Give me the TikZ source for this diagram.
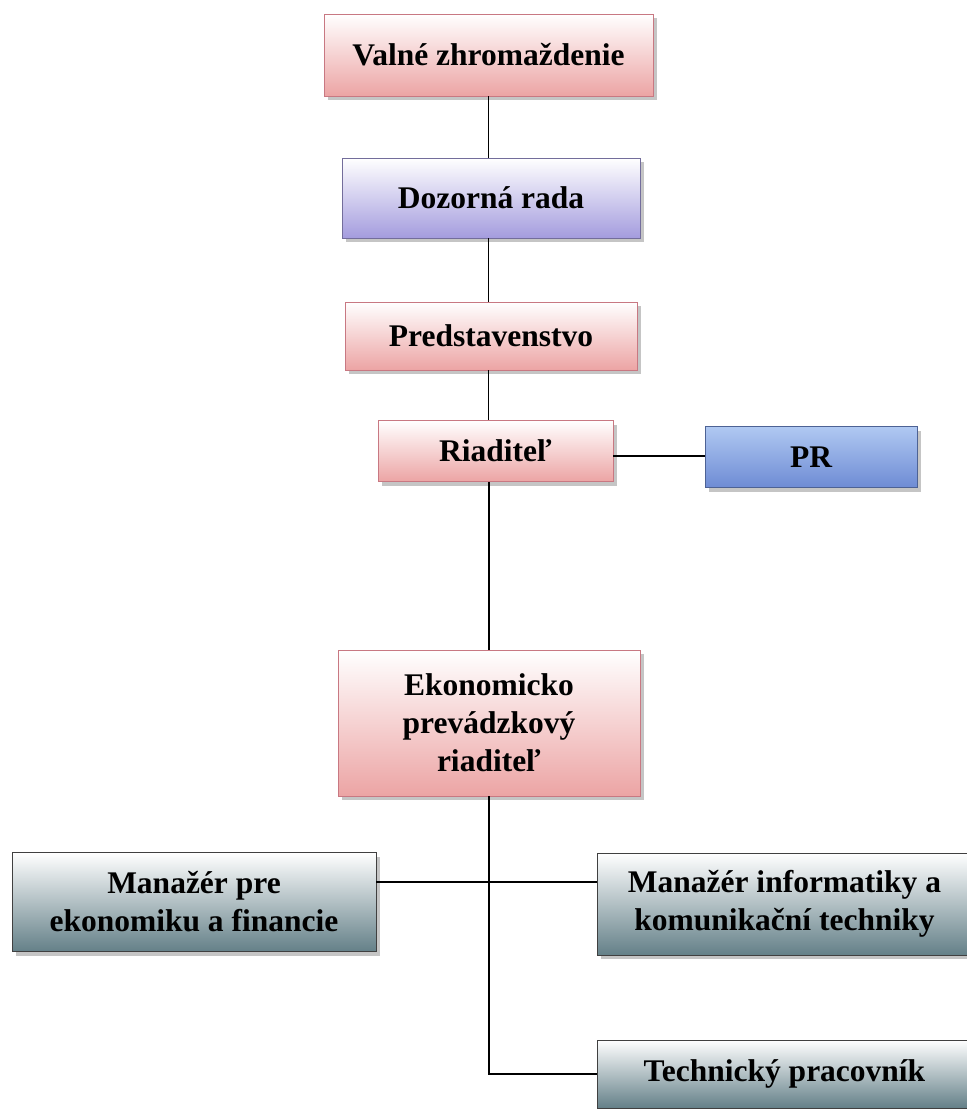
\documentclass[tikz,border=0pt]{standalone}
\usepackage{fontspec}
\setmainfont{Liberation Serif}
\usetikzlibrary{shadows}

\definecolor{pinkbot}{RGB}{236,164,164}
\definecolor{pinkline}{RGB}{200,120,130}
\definecolor{lavbot}{RGB}{164,156,222}
\definecolor{prtop}{RGB}{176,200,242}
\definecolor{prbot}{RGB}{110,140,212}
\definecolor{graybot}{RGB}{100,128,136}

\begin{document}
\begin{tikzpicture}[x = 1pt, y = -1pt,
        every node/.style={inner sep=0pt, align=center, font=\fontsize{31.5}{38}\selectfont\bfseries},
        every path/.style={line width=1.4pt}
]
\tikzstyle{block}= [draw, rectangle, line width=0.8pt,
    drop shadow={shadow xshift=4pt, shadow yshift=-4pt, fill=black!45}]
\tikzstyle{pinkblock}= [block, draw=pinkline, top color=white, bottom color=pinkbot]
\tikzstyle{lavblock}= [block, draw=lavbot!70!black, top color=white, bottom color=lavbot]
\tikzstyle{prblock}= [block, draw=prbot!70!black, top color=prtop, bottom color=prbot]
\tikzstyle{grayblock}= [block, draw=black!75, top color=white, bottom color=graybot]
    \fill[white] (0,0) rectangle (967,1109);
    \useasboundingbox (0,0) rectangle (967,1109);
    \node[pinkblock, minimum width=329pt, minimum height=82pt] (valne) at (488.5,55) {Valné zhromaždenie};
    \node[lavblock, minimum width=298pt, minimum height=80pt] (dozor) at (491,198) {Dozorná rada};
    \node[pinkblock, minimum width=292pt, minimum height=68pt] (pred) at (491,336) {Predstavenstvo};
    \node[pinkblock, minimum width=235pt, minimum height=61pt] (riad) at (495.5,451) {Riaditeľ};
    \node[prblock, minimum width=212pt, minimum height=61pt] (pr) at (811,457) {PR};
    \node[pinkblock, minimum width=302pt, minimum height=146pt] (ekon) at (489,723) {Ekonomicko\\prevádzkový\\riaditeľ};
    \node[grayblock, minimum width=364pt, minimum height=99pt] (manE) at (194,902) {Manažér pre\\ekonomiku a financie};
    \node[grayblock, minimum width=375pt, minimum height=102pt] (manI) at (784.5,904) {Manažér informatiky a\\komunikační techniky};
    \node[grayblock, minimum width=375pt, minimum height=68pt] (tech) at (784.5,1074) {Technický pracovník};

    \draw (valne.south) -- (valne.south |- dozor.north);
    \draw ([xshift=-2.5pt]dozor.south) -- ([xshift=-2.5pt]dozor.south |- pred.north);
    \draw ([xshift=-2.5pt]pred.south) -- ([xshift=-2.5pt]pred.south |- riad.north);
    \draw ([yshift=-5pt]riad.east) -- ([yshift=1pt]pr.west);
    \draw (ekon.north |- riad.south) -- (ekon.north);
    \draw (ekon.south) -- (ekon.south |- tech.west) -- (tech.west);
    \draw ([yshift=20pt]manE.east) -- ([yshift=22pt]manI.west);

\end{tikzpicture}
\end{document}
